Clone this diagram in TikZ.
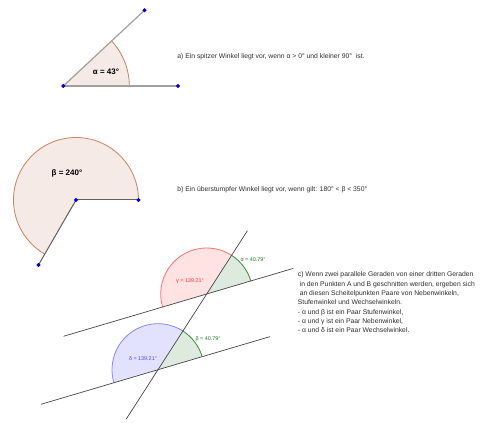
\documentclass[tikz,border=0pt]{standalone}
\usepackage{fontspec}
\setmainfont{Liberation Sans}
\usepackage{tkz-euclide}
\definecolor{wfill}{RGB}{245,234,229}
\definecolor{wline}{RGB}{205,128,98}
\definecolor{rfill}{RGB}{255,226,226}
\definecolor{rline}{RGB}{255,110,110}
\definecolor{bfill}{RGB}{226,226,255}
\definecolor{bline}{RGB}{135,135,255}
\definecolor{gfill}{RGB}{222,234,222}
\definecolor{gline}{RGB}{60,140,60}
\definecolor{gtext}{RGB}{30,120,30}
\definecolor{ptblue}{RGB}{0,0,210}
\definecolor{segA}{RGB}{160,160,160}
\definecolor{segB}{RGB}{95,95,95}
\definecolor{segC}{RGB}{70,70,70}
\definecolor{ink}{RGB}{45,45,45}

\begin{document}
\begin{tikzpicture}[x=1pt,y=1pt,line width=0.8pt,
  txt/.style={inner sep=0pt,text=ink,font=\fontsize{6.8}{9.33}\selectfont},
  big/.style={inner sep=0pt,font=\fontsize{8}{9}\selectfont\bfseries},
  small/.style={inner sep=0pt,font=\fontsize{5.4}{6}\selectfont}]
  \useasboundingbox (0,0) rectangle (488,423);
  % a)
  \coordinate (O) at (63.3,337);
  \coordinate (P) at (144.5,412.7);
  \coordinate (Q) at (178,337);
  \coordinate (R) at (129.3,337);
  \fill[wfill] (O) -- (R) arc[start angle=0,end angle=43,radius=66] -- cycle;
  \draw[wline] (R) arc[start angle=0,end angle=43,radius=66];
  \tkzDrawSegments[segA,line width=1.2pt](O,P O,Q)
  \tkzDrawPoints[size=3,color=ptblue,fill=ptblue](O,P,Q)
  \node[big] (la) at (106,351) {α = 43°};
  \node[txt,anchor=west] (ta) at (177,366) {a) Ein spitzer Winkel liegt vor, wenn α > 0° und kleiner 90°\ \ ist.};
  % b)
  \coordinate (M) at (76,223);
  \coordinate (S) at (138.5,223);
  \coordinate (T) at (38.5,158.05);
  \fill[wfill] (M) -- (S) arc[start angle=0,end angle=240,radius=62.5] -- cycle;
  \draw[wline] (S) arc[start angle=0,end angle=240,radius=62.5];
  \tkzDrawSegments[segB,line width=1pt](M,S M,T)
  \tkzDrawPoints[size=3,color=ptblue,fill=ptblue](M,S,T)
  \node[big] (lb) at (67,250) {β = 240°};
  \node[txt,anchor=west] (tb) at (177,233) {b) Ein überstumpfer Winkel liegt vor, wenn gilt: 180° < β < 350°};
  % c)
  \coordinate (A) at (206.7,129);
  \coordinate (B) at (158.0,53.3);
  \coordinate (U1) at (63.8,86.8);
  \coordinate (U2) at (293.0,154.5);
  \coordinate (L1) at (41.3,18.8);
  \coordinate (L2) at (269.8,86.3);
  \coordinate (T1) at (247.3,192.1);
  \coordinate (T2) at (126.3,4.0);
  \fill[rfill] (A) -- ++(57.24:46) arc[start angle=57.24,end angle=196.45,radius=46] -- cycle;
  \draw[rline] (A) ++(57.24:46) arc[start angle=57.24,end angle=196.45,radius=46];
  \fill[gfill] (A) -- ++(16.45:46) arc[start angle=16.45,end angle=57.24,radius=46] -- cycle;
  \draw[gline] (A) ++(16.45:46) arc[start angle=16.45,end angle=57.24,radius=46];
  \fill[bfill] (B) -- ++(57.24:46) arc[start angle=57.24,end angle=196.45,radius=46] -- cycle;
  \draw[bline] (B) ++(57.24:46) arc[start angle=57.24,end angle=196.45,radius=46];
  \fill[gfill] (B) -- ++(16.45:46) arc[start angle=16.45,end angle=57.24,radius=46] -- cycle;
  \draw[gline] (B) ++(16.45:46) arc[start angle=16.45,end angle=57.24,radius=46];
  \tkzDrawSegments[segC,line width=0.7pt](U1,U2 L1,L2 T1,T2)
  \node[small,text=gtext] (lal) at (253,163) {α = 40.79°};
  \node[small,text=red!80] (lga) at (190,142.3) {γ = 139.21°};
  \node[small,text=gtext] (lbe) at (208,84) {β = 40.79°};
  \node[small,text=blue!70] (lde) at (143,64) {δ = 139.21°};
  \node[txt,anchor=north west,align=left] (tc) at (297.5,151.5) {c) Wenn zwei parallele Geraden von einer dritten Geraden\\
    \ in den Punkten A und B geschnitten werden, ergeben sich\\
    \ an diesen Scheitelpunkten Paare von Nebenwinkeln,\\
    Stufenwinkel und Wechselwinkeln.\\
    - α und β ist ein Paar Stufenwinkel,\\
    - α und γ ist ein Paar Nebenwinkel,\\
    - α und δ ist ein Paar Wechselwinkel.};
\end{tikzpicture}
\end{document}
